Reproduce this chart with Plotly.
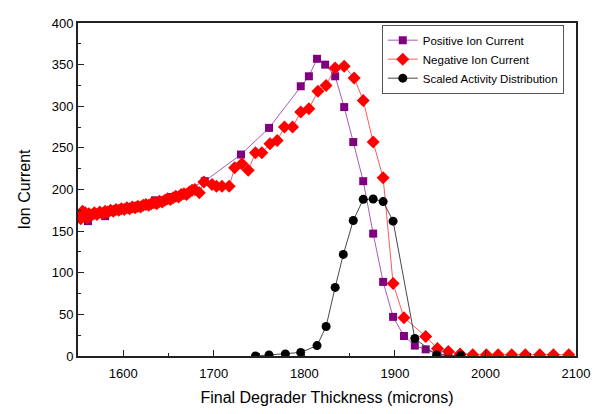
import plotly.graph_objects as go

# Positive Ion Current (purple squares)
pos_x = [1561, 1580, 1635, 1653, 1690, 1730, 1761, 1796, 1805, 1814, 1823, 1834, 1844,
         1854, 1865, 1876, 1887, 1898, 1910, 1922, 1934, 1947, 1959]
pos_y = [162, 168, 187, 191, 210, 242, 274, 324, 336, 357, 350, 336, 299,
         257, 210, 147, 89, 47, 24, 12.5, 8, 2.5, 1.2]

# Negative Ion Current (red diamonds)
neg_x = [1552, 1553, 1555, 1556, 1558, 1560, 1562, 1565, 1568, 1571, 1574, 1577, 1580,
         1583, 1586, 1589, 1592, 1595, 1598, 1601, 1604, 1607, 1610, 1613, 1616, 1619,
         1622, 1625, 1628, 1631, 1634, 1637, 1640, 1643, 1646, 1649, 1652, 1655, 1658,
         1661, 1664, 1667, 1670, 1673, 1676, 1679, 1684,
         1689, 1698, 1703, 1709, 1717, 1723, 1731, 1738, 1746, 1753, 1762, 1770, 1778,
         1787, 1796, 1805, 1815, 1824, 1834, 1844, 1855, 1865, 1876, 1887, 1898, 1910,
         1934, 1947, 1959, 1972, 1986, 2001, 2014, 2029, 2044, 2060, 2075, 2092]
neg_y = [170, 165, 174, 168, 172, 166, 171, 169, 172, 170, 173, 171, 174,
         173, 175, 174, 176, 175, 177, 176, 178, 177, 179, 178, 180, 179,
         181, 182, 181, 183, 184, 183, 186, 185, 187, 189, 188, 190, 192,
         191, 194, 195, 194, 197, 199, 200, 196,
         209, 206, 204, 204, 204, 226, 231, 223, 244, 244, 255, 259, 275,
         275, 293, 297, 318, 325, 346, 348, 334, 307, 257, 214, 87, 46,
         23.5, 9, 5.5, 2.4, 1.5, 1.5, 1.5, 1.5, 1.5, 1.5, 1.5, 1.5]

# Scaled Activity Distribution (black circles)
act_x = [1746, 1761, 1779, 1796, 1814, 1824, 1834, 1843, 1854, 1865, 1876, 1887, 1898,
         1922, 1946, 1973]
act_y = [0, 1.2, 2.4, 4.3, 12.5, 35.5, 82.4, 122, 162.7, 188.2, 188.6, 185.5, 162,
         21, 1.2, 0.5]

x_ticks = [1600, 1700, 1800, 1900, 2000, 2100]
y_ticks = [0, 50, 100, 150, 200, 250, 300, 350, 400]

fig = go.Figure()
fig.add_trace(go.Scatter(
    x=pos_x, y=pos_y, mode="lines+markers", name="Positive Ion Current",
    line=dict(color="rgba(150,60,170,0.85)", width=1),
    marker=dict(symbol="square", size=8, color="#800080")))
fig.add_trace(go.Scatter(
    x=neg_x, y=neg_y, mode="lines+markers", name="Negative Ion Current",
    line=dict(color="rgba(255,60,60,0.85)", width=1),
    marker=dict(symbol="diamond", size=10, color="#ff0000")))
fig.add_trace(go.Scatter(
    x=act_x, y=act_y, mode="lines+markers", name="Scaled Activity Distribution",
    line=dict(color="rgba(40,40,40,0.85)", width=1),
    marker=dict(symbol="circle", size=9, color="#000000")))

font_family = "Liberation Sans, Arial, sans-serif"
# page body has an 8px margin, so the figure is shifted by 8px
fig.update_layout(
    width=594, height=406,
    margin=dict(l=70, r=26, t=8, b=58),
    paper_bgcolor="white", plot_bgcolor="white",
    font=dict(family=font_family, color="#000000", size=13),
    showlegend=True,
    legend=dict(x=0.61, y=0.995, xanchor="left", yanchor="top",
                bgcolor="white", bordercolor="#555555", borderwidth=1,
                font=dict(size=11.5, family=font_family),
                tracegroupgap=0, itemwidth=30),
)
fig.update_xaxes(
    range=[1550, 2100], tickvals=x_ticks, ticks="inside", ticklen=6, tickwidth=1.2,
    tickcolor="#222", showline=True, linecolor="#222", linewidth=1.8, mirror=True,
    showgrid=False, zeroline=False, ticklabelstandoff=4,
    minor=dict(dtick=50, tick0=1550, ticks="inside", ticklen=3, tickcolor="#222"),
    title=dict(text="Final Degrader Thickness (microns)", font=dict(size=16), standoff=12),
    tickfont=dict(size=13))
fig.update_yaxes(
    range=[0, 400], tickvals=y_ticks, ticks="inside", ticklen=6, tickwidth=1.2,
    tickcolor="#222", showline=True, linecolor="#222", linewidth=1.8, mirror=True,
    showgrid=False, zeroline=False,
    minor=dict(dtick=25, ticks="inside", ticklen=3, tickcolor="#222"),
    title=dict(text="Ion Current", font=dict(size=16), standoff=17),
    tickfont=dict(size=13))

fig.write_html("out.html")
